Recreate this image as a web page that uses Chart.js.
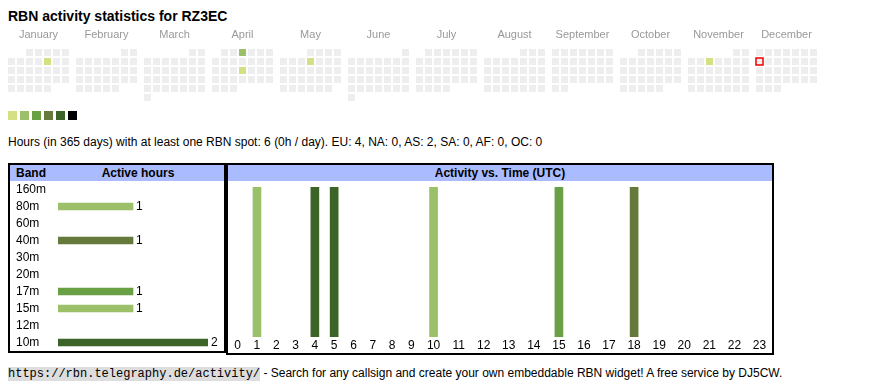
<!DOCTYPE html>
<html>
<head>
<meta charset="utf-8">
<script src="https://cdn.jsdelivr.net/npm/chart.js@4.4.1/dist/chart.umd.min.js"></script>
<style>
  body { margin: 0; width: 870px; height: 390px; position: relative; overflow: hidden; background: #fff;
         font-family: "Liberation Sans", Arial, sans-serif; color: #000; }
  .abs { position: absolute; }
  #title { left: 8px; top: 8px; font-size: 14px; font-weight: bold; line-height: 16px; white-space: nowrap; }
  #legend { left: 8px; top: 111px; display: flex; }
  #legend span { width: 9px; height: 9px; margin-right: 3px; }
  #summary { left: 8px; top: 135px; font-size: 12px; line-height: 14px; white-space: nowrap; }
  .box { border: 2px solid #000; background: #fff; }
  .hdr { position: relative; height: 16px; background: #aabbff; font-size: 12px; font-weight: bold; line-height: 16px; }
  .hdr span { position: absolute; top: 0; }
  #footer { left: 8px; top: 366px; font-size: 12px; line-height: 15px; white-space: nowrap; }
  code { font-family: "Liberation Mono", monospace; font-size: 12px; background: #ddd; }
</style>
</head>
<body>
<div id="title" class="abs">RBN activity statistics for RZ3EC</div>
<canvas id="calChart" class="abs" width="870" height="76" style="left:0;top:28px"></canvas>
<div id="legend" class="abs"></div>
<div id="summary" class="abs">Hours (in 365 days) with at least one RBN spot: 6 (0h / day). EU: 4, NA: 0, AS: 2, SA: 0, AF: 0, OC: 0</div>

<div class="abs box" style="left:8px;top:163px;width:214px;height:186px">
  <div class="hdr"><span style="left:6px">Band</span><span style="left:45px;width:166px;text-align:center">Active hours</span></div>
</div>
<div class="abs box" style="left:226px;top:163px;width:544px;height:188px">
  <div class="hdr" style="text-align:center">Activity vs. Time (UTC)</div>
</div>
<canvas id="bandChart" class="abs" width="208" height="170" style="left:16px;top:181px"></canvas>
<canvas id="hourChart" class="abs" width="544" height="172" style="left:228px;top:181px"></canvas>

<div id="footer" class="abs"><code>https://rbn.telegraphy.de/activity/</code> - Search for any callsign and create your own embeddable RBN widget! A free service by DJ5CW.</div>

<script>
// colour steps (legend)
const levelColors = ['#d5e085', '#9cc069', '#69a045', '#65793a', '#3c6428', '#000000'];

// calendar
const year = 2025;
const monthNames = ['January', 'February', 'March', 'April', 'May', 'June', 'July', 'August', 'September', 'October', 'November', 'December'];
const activeDays = ['2025-01-10', '2025-04-03', '2025-04-17', '2025-05-08', '2025-11-05'];
const activeLevels = [0, 1, 0, 0, 0];
const today = '2025-12-08';

// bands
const bands = ['160m', '80m', '60m', '40m', '30m', '20m', '17m', '15m', '12m', '10m'];
const bandHours = [0, 1, 0, 1, 0, 0, 1, 1, 0, 2];
const bandLevels = [0, 1, 0, 3, 0, 0, 2, 1, 0, 4];

// hours UTC
const hourLabels = ['0', '1', '2', '3', '4', '5', '6', '7', '8', '9', '10', '11', '12', '13', '14', '15', '16', '17', '18', '19', '20', '21', '22', '23'];
const hourActivity = [0, 1, 0, 0, 1, 1, 0, 0, 0, 0, 1, 0, 0, 0, 0, 1, 0, 0, 1, 0, 0, 0, 0, 0];
const hourLevels = [0, 1, 0, 0, 4, 4, 0, 0, 0, 0, 1, 0, 0, 0, 0, 2, 0, 0, 3, 0, 0, 0, 0, 0];

const FONT = "'Liberation Sans', Arial, sans-serif";

document.getElementById('legend').innerHTML = levelColors.map(c => `<span style="background:${c}"></span>`).join('');

// ---- calendar as scatter of square points ----
const pad = n => String(n).padStart(2, '0');
const cells = [];
for (let m = 0; m < 12; m++) {
  const first = (new Date(Date.UTC(year, m, 1)).getUTCDay() + 6) % 7; // monday = 0
  const days = new Date(Date.UTC(year, m + 1, 0)).getUTCDate();
  for (let d = 1; d <= days; d++) {
    const key = `${year}-${pad(m + 1)}-${pad(d)}`;
    const idx = activeDays.indexOf(key);
    cells.push({
      x: m * 68 / 9 + (d - 1 + first) % 7,
      y: Math.floor((d - 1 + first) / 7),
      color: idx >= 0 ? levelColors[activeLevels[idx]] : '#eeeeee',
      today: key === today
    });
  }
}

const monthLabels = {
  id: 'monthLabels',
  afterDraw(chart) {
    const { ctx, scales: { x } } = chart;
    ctx.save();
    ctx.font = `11px ${FONT}`;
    ctx.fillStyle = '#999';
    ctx.textAlign = 'center';
    ctx.textBaseline = 'alphabetic';
    monthNames.forEach((name, m) => ctx.fillText(name, x.getPixelForValue(m * 68 / 9 + 3), 10));
    ctx.restore();
  }
};

const calMinX = -11.5 / 9, calMinY = -24.5 / 9;
new Chart(document.getElementById('calChart'), {
  type: 'scatter',
  data: {
    datasets: [{
      data: cells.map(c => ({ x: c.x, y: c.y })),
      pointStyle: 'rect',
      pointRadius: 4.95,
      backgroundColor: cells.map(c => c.color),
      borderColor: cells.map(c => c.today ? '#ee0000' : 'transparent'),
      borderWidth: cells.map(c => c.today ? 1.5 : 0),
      clip: false
    }]
  },
  options: {
    responsive: false, animation: false, events: [],
    layout: { padding: 0, autoPadding: false },
    plugins: { legend: { display: false }, tooltip: { enabled: false } },
    scales: {
      x: { type: 'linear', display: false, min: calMinX, max: calMinX + 870 / 9 },
      y: { type: 'linear', display: false, reverse: true, min: calMinY, max: calMinY + 76 / 9 }
    }
  },
  plugins: [monthLabels]
});

// ---- band chart ----
const valueLabels = {
  id: 'valueLabels',
  afterDatasetsDraw(chart) {
    const { ctx } = chart;
    ctx.save();
    ctx.font = `12px ${FONT}`;
    ctx.fillStyle = '#000';
    ctx.textBaseline = 'middle';
    chart.getDatasetMeta(0).data.forEach((bar, i) => {
      const v = chart.data.datasets[0].data[i];
      if (v > 0) ctx.fillText(String(v), bar.x + 3, bar.y);
    });
    ctx.restore();
  }
};

const noPad = s => { s.paddingTop = 0; s.paddingBottom = 0; s.paddingLeft = 0; s.paddingRight = 0; };

new Chart(document.getElementById('bandChart'), {
  type: 'bar',
  data: {
    labels: bands,
    datasets: [{ data: bandHours.map(v => v || null), backgroundColor: bandLevels.map(l => levelColors[l]), barThickness: 7, borderWidth: 0 }]
  },
  options: {
    indexAxis: 'y', responsive: false, animation: false, events: [],
    layout: { padding: { left: 0, top: 0, bottom: 0, right: 16 }, autoPadding: false },
    plugins: { legend: { display: false }, tooltip: { enabled: false } },
    scales: {
      x: { display: false, min: 0, max: 2 },
      y: {
        grid: { display: false, drawTicks: false }, border: { display: false },
        afterFit: s => { s.width = 42; noPad(s); },
        ticks: { crossAlign: 'far', padding: 0, autoSkip: false, color: '#000', font: { family: FONT, size: 12 } }
      }
    }
  },
  plugins: [valueLabels]
});

// ---- hour chart, columns sized like the table cells ----
const colW = l => l.length === 1 ? 19.28 : 25.04;
const hourCenters = [];
let acc = 0;
hourLabels.forEach(l => { hourCenters.push(acc + colW(l) / 2); acc += colW(l); });

new Chart(document.getElementById('hourChart'), {
  type: 'bar',
  data: {
    datasets: [{
      data: hourActivity.map((v, i) => ({ x: hourCenters[i], y: v || null })),
      backgroundColor: hourLevels.map(l => levelColors[l]),
      barThickness: 8, borderWidth: 0
    }]
  },
  options: {
    responsive: false, animation: false, events: [],
    layout: { padding: { left: 0, top: 6, bottom: 0, right: 0 }, autoPadding: false },
    plugins: { legend: { display: false }, tooltip: { enabled: false } },
    scales: {
      x: {
        type: 'linear', min: 0, max: acc, offset: false,
        grid: { display: false, drawTicks: false }, border: { display: false },
        afterBuildTicks: s => { s.ticks = hourCenters.map(v => ({ value: v })); },
        afterFit: s => { s.height = 16; noPad(s); },
        ticks: { autoSkip: false, maxRotation: 0, padding: 1.5, color: '#000', font: { family: FONT, size: 12 },
                 callback: (v, i) => hourLabels[i] }
      },
      y: { display: false, min: 0, max: 1 }
    }
  }
});
</script>
</body>
</html>
